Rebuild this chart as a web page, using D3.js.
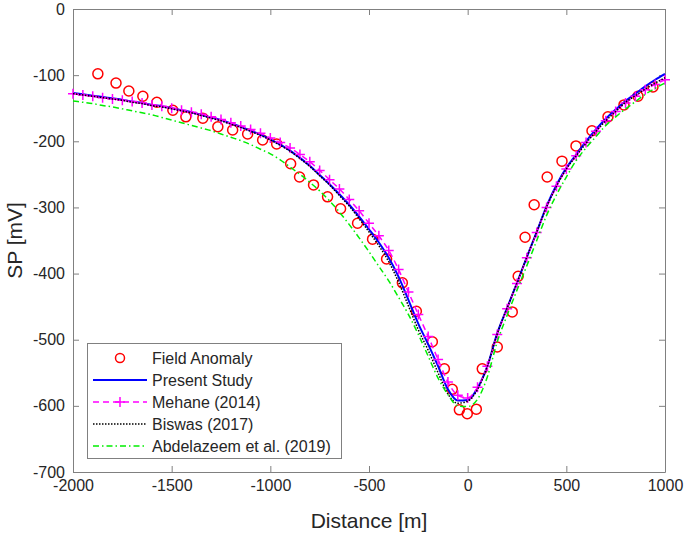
<!DOCTYPE html>
<html><head><meta charset="utf-8">
<script src="https://cdn.jsdelivr.net/npm/d3@7"></script>
<style>body{margin:0;background:#fff}svg{display:block}text{font-family:"Liberation Sans",Arial,sans-serif}</style>
</head><body><svg id="c" width="685" height="535"></svg>
<script>
// ---- data ----
const fieldX = [-1874,-1782,-1717,-1646,-1575,-1494,-1428,-1342,-1266,-1191,-1115,-1039,-968,-897,-852,-781,-710,-644,-558,-482,-411,-331,-260,-179,-118,-78,-42,-2,44,74,150,226,256,291,337,403,478,549,630,711,792,863,939];
const fieldSP = [-98,-112,-124,-132,-141,-153,-163,-165,-178,-183,-189,-198,-204,-234,-254,-266,-284,-302,-324,-348,-378,-414,-457,-503,-544,-575,-606,-612,-605,-544,-511,-458,-404,-345,-296,-254,-230,-207,-184,-163,-145,-132,-118];

const distance = [-2000,-1950,-1900,-1850,-1800,-1750,-1700,-1650,-1600,-1550,-1500,-1450,-1400,-1350,-1300,-1250,-1200,-1150,-1100,-1050,-1000,-950,-900,-850,-800,-750,-700,-650,-600,-550,-500,-450,-400,-350,-300,-250,-200,-150,-100,-50,0,50,100,150,200,250,300,350,400,450,500,550,600,650,700,750,800,850,900,950,1000];
const presentStudy = [-127,-129,-131,-133,-135,-137,-140,-142,-145,-147,-150,-153,-156,-160,-164,-168,-173,-178,-184,-190,-197,-205,-214,-225,-237,-251,-265,-280,-296,-314,-333,-353,-376,-405,-440,-476,-507,-540,-575,-592,-591,-573,-540,-490,-452,-414,-375,-337,-298,-266,-240,-220,-200,-182,-166,-152,-139,-128,-117,-107,-98];
const mehane2014 = [-128,-130,-132,-134,-136,-138,-140,-142,-145,-147,-150,-153,-156,-159,-163,-167,-172,-177,-182,-188,-195,-202,-210,-220,-231,-244,-258,-272,-288,-305,-324,-343,-365,-394,-428,-462,-495,-530,-564,-584,-588,-572,-540,-492,-453,-415,-376,-338,-300,-268,-242,-222,-202,-185,-169,-155,-142,-132,-122,-114,-107];
const biswas2017 = [-128,-130,-132,-134,-136,-138,-141,-143,-146,-148,-151,-154,-157,-161,-165,-169,-174,-179,-185,-191,-198,-206,-215,-226,-238,-252,-266,-282,-298,-317,-337,-358,-382,-413,-449,-485,-516,-550,-582,-596,-593,-575,-540,-491,-452,-414,-375,-337,-299,-268,-242,-222,-203,-185,-169,-155,-141,-131,-121,-112,-104];
const abdelazeem2019 = [-139,-141,-143,-146,-148,-151,-154,-157,-160,-164,-168,-172,-176,-180,-184,-189,-194,-199,-205,-212,-219,-228,-239,-250,-262,-275,-290,-307,-326,-346,-367,-389,-411,-436,-462,-492,-525,-558,-583,-600,-601,-590,-556,-503,-463,-425,-388,-350,-312,-281,-254,-229,-210,-193,-176,-163,-151,-140,-129,-120,-112];

const xTicks = [-2000,-1500,-1000,-500,0,500,1000];
const yTicks = [0,-100,-200,-300,-400,-500,-600,-700];
const legendLabels = ["Field Anomaly","Present Study","Mehane (2014)","Biswas (2017)","Abdelazeem et al. (2019)"];

// ---- layout ----
const L=73, R=665, T=9, B=472;
const svg = d3.select("#c");
const x = d3.scaleLinear().domain([-2000,1000]).range([L,R]);
const y = d3.scaleLinear().domain([-700,0]).range([B,T]);
const axisCol = "#808080", txtCol = "#262626";
const fmt = d => String(d);

function styleAxis(g, labels){
  g.selectAll("path.domain").attr("stroke",axisCol);
  g.selectAll(".tick line").attr("stroke",axisCol);
  g.selectAll(".tick text").attr("fill",txtCol).attr("font-size",16);
  if(!labels) g.selectAll(".tick text").remove();
}
styleAxis(svg.append("g").attr("transform",`translate(0,${B})`).call(d3.axisBottom(x).tickValues(xTicks).tickFormat(fmt).tickSizeInner(-6).tickSizeOuter(0).tickPadding(8)), true);
styleAxis(svg.append("g").attr("transform",`translate(0,${T})`).call(d3.axisTop(x).tickValues(xTicks).tickSizeInner(-6).tickSizeOuter(0)), false);
styleAxis(svg.append("g").attr("transform",`translate(${L},0)`).call(d3.axisLeft(y).tickValues(yTicks).tickFormat(fmt).tickSizeInner(-6).tickSizeOuter(0).tickPadding(8)), true);
styleAxis(svg.append("g").attr("transform",`translate(${R},0)`).call(d3.axisRight(y).tickValues(yTicks).tickSizeInner(-6).tickSizeOuter(0)), false);

svg.append("text").attr("x",(L+R)/2).attr("y",528).attr("text-anchor","middle").attr("font-size",21).attr("fill",txtCol).text("Distance [m]");
svg.append("text").attr("transform",`translate(22,${(T+B)/2}) rotate(-90)`).attr("text-anchor","middle").attr("font-size",21).attr("fill",txtCol).text("SP [mV]");

// ---- series ----
const line = d3.line().x((d,i)=>x(distance[i])).y(d=>y(d)).curve(d3.curveMonotoneX);
const plot = svg.append("g");

plot.selectAll("circle.f").data(fieldSP).join("circle")
  .attr("cx",(d,i)=>x(fieldX[i])).attr("cy",d=>y(d)).attr("r",5)
  .attr("fill","none").attr("stroke","#ff0000").attr("stroke-width",1.5);

plot.append("path").attr("d",line(presentStudy)).attr("fill","none").attr("stroke","#0000ff").attr("stroke-width",2);
plot.append("path").attr("d",line(mehane2014)).attr("fill","none").attr("stroke","#ff00ff").attr("stroke-width",1.5).attr("stroke-dasharray","6,4");
plot.selectAll("path.m").data(mehane2014).join("path")
  .attr("d","M-5,0H5M0,-5V5").attr("transform",(d,i)=>`translate(${x(distance[i])},${y(d)})`)
  .attr("stroke","#ff00ff").attr("stroke-width",1.5).attr("fill","none");
plot.append("path").attr("d",line(biswas2017)).attr("fill","none").attr("stroke","#000").attr("stroke-width",1.5).attr("stroke-dasharray","1.5,1.5");
plot.append("path").attr("d",line(abdelazeem2019)).attr("fill","none").attr("stroke","#00ee00").attr("stroke-width",1.5).attr("stroke-dasharray","6,3,1.5,3");

// ---- legend ----
const lg = svg.append("g");
lg.append("rect").attr("x",87.5).attr("y",343.5).attr("width",254).attr("height",115).attr("fill","#fff").attr("stroke",axisCol);
const ly = i => 358 + i*22;
lg.append("circle").attr("cx",120).attr("cy",ly(0)).attr("r",4.5).attr("fill","none").attr("stroke","#ff0000").attr("stroke-width",1.5);
lg.append("line").attr("x1",93).attr("x2",147).attr("y1",ly(1)).attr("y2",ly(1)).attr("stroke","#0000ff").attr("stroke-width",2);
lg.append("line").attr("x1",93).attr("x2",147).attr("y1",ly(2)).attr("y2",ly(2)).attr("stroke","#ff00ff").attr("stroke-width",1.5).attr("stroke-dasharray","6,4");
lg.append("path").attr("d",`M115,${ly(2)}H125M120,${ly(2)-5}V${ly(2)+5}`).attr("stroke","#ff00ff").attr("stroke-width",1.5);
lg.append("line").attr("x1",93).attr("x2",147).attr("y1",ly(3)).attr("y2",ly(3)).attr("stroke","#000").attr("stroke-width",1.5).attr("stroke-dasharray","1.5,1.5");
lg.append("line").attr("x1",93).attr("x2",147).attr("y1",ly(4)).attr("y2",ly(4)).attr("stroke","#00ee00").attr("stroke-width",1.5).attr("stroke-dasharray","6,3,1.5,3");
lg.selectAll("text.l").data(legendLabels).join("text")
  .attr("x",152).attr("y",(d,i)=>ly(i)).attr("dy","0.36em").attr("font-size",16).attr("fill",txtCol).text(d=>d);
</script></body></html>
